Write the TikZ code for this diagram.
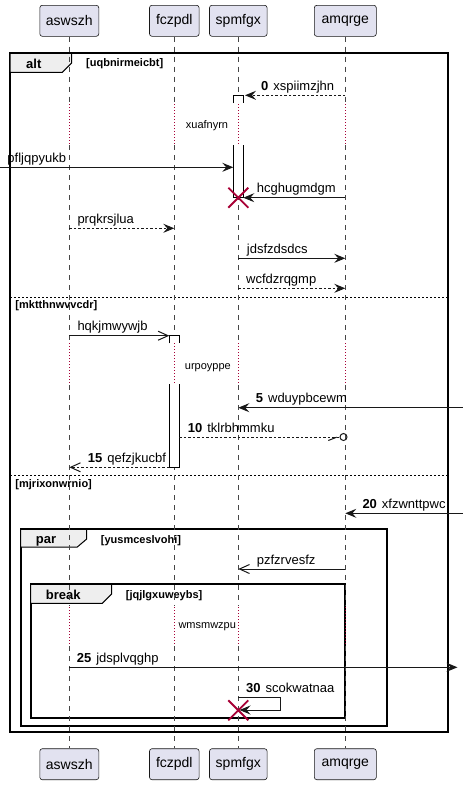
\documentclass[tikz,border=0pt]{standalone}
\usepackage{fontspec}
\setmainfont{Liberation Sans}
\usetikzlibrary{arrows.meta}
\definecolor{partfill}{HTML}{E2E2F0}
\definecolor{ink}{HTML}{181818}
\definecolor{tabfill}{HTML}{EEEEEE}
\definecolor{crim}{HTML}{A80036}
\tikzset{
  part/.style={draw=ink, fill=partfill, rounded corners=2.5pt, line width=0.6pt,
    minimum height=31pt, inner xsep=2pt, font=\fontsize{14}{16}\selectfont},
  life/.style={ink!80, line width=0.6pt, dash pattern=on 5pt off 5pt},
  lifedelay/.style={crim, line width=0.8pt, dash pattern=on 1pt off 2pt},
  msg/.style={line width=1pt, ink},
  sync/.style={-{Stealth[length=11pt,width=9pt,inset=4pt]}},
  openhead/.style={-{Straight Barb[length=10pt,width=9pt]}},
  reply/.style={dash pattern=on 2.5pt off 2pt},
  lbl/.style={anchor=base west, inner sep=0pt, font=\fontsize{13}{15}\selectfont},
  delaytxt/.style={anchor=base west, inner sep=0pt, font=\fontsize{11}{13}\selectfont},
  guard/.style={anchor=base west, inner sep=0pt, font=\bfseries\fontsize{11}{13}\selectfont},
  kind/.style={anchor=base west, inner sep=0pt, font=\bfseries\fontsize{13}{15}\selectfont},
  frame/.style={draw=black, line width=1.8pt},
  tab/.style={fill=tabfill, draw=black, line width=1pt},
  sep/.style={black, line width=0.6pt, dash pattern=on 2pt off 2pt},
  act/.style={draw=black, line width=1pt},
  kill/.style={crim, line width=1.8pt},
}
\newcommand{\num}[1]{\textbf{#1}\hspace{5pt}}
\begin{document}
\begin{tikzpicture}[x=1pt,y=-1pt]
\useasboundingbox (0,0) rectangle (463,785);
\fill[white] (0,0) rectangle (463,785);

% combined fragments
\draw[frame] (10,53.3) rectangle (448.3,732.3);
\draw[tab] (10,53.3) -- (71.7,53.3) -- (71.7,63) -- (62.3,72.3) -- (10,72.3) -- cycle;
\node[kind] (altk) at (26,68.3) {alt};
\node[guard] (g1) at (86,66.5) {[uqbnirmeicbt]};
\draw[sep] (10,297.3) -- (448.3,297.3);
\node[guard] (g2) at (15.3,308) {[mktthnwvvcdr]};
\draw[sep] (10,475) -- (448.3,475);
\node[guard] (g3) at (15.3,487.5) {[mjrixonwrnio]};

\draw[frame] (20.7,529.3) rectangle (386.7,725.7);
\draw[tab] (20.7,529.3) -- (86.7,529.3) -- (86.7,539) -- (77.3,547) -- (20.7,547) -- cycle;
\node[kind] (park) at (35.7,543.5) {par};
\node[guard] (g4) at (100.7,543.3) {[yusmceslvohi]};

\draw[frame] (30.7,584.3) rectangle (344.7,718.3);
\draw[tab] (30.7,584.3) -- (111.7,584.3) -- (111.7,594) -- (102.3,603.3) -- (30.7,603.3) -- cycle;
\node[kind] (brk) at (45.7,599) {break};
\node[guard] (g5) at (125.7,598.3) {[jqjlgxuweybs]};

% participants
\node[part, minimum width=59pt]   (A) at (69.3,20.8) {aswszh};
\node[part, minimum width=49.6pt] (F) at (174.3,20.8) {fczpdl};
\node[part, minimum width=57.6pt] (S) at (238.3,20.8) {spmfgx};
\node[part, minimum width=62pt]   (M) at (345.3,20.8) {amqrge};
\node[part, minimum width=59pt]   (Abot) at (69.3,764.2) {aswszh};
\node[part, minimum width=49.6pt] (Fbot) at (174.3,764.2) {fczpdl};
\node[part, minimum width=57.6pt] (Sbot) at (238.3,764.2) {spmfgx};
\node[part, minimum width=62pt]   (Mbot) at (345.3,764.2) {amqrge};

% lifelines, dotted where time is elided
\foreach \p in {A,F,S,M}{
  \draw[life] (\p.south) -- (\p |- 0,103);
  \draw[lifedelay] (\p |- 0,104) -- (\p |- 0,144);
  \draw[life] (\p |- 0,145) -- (\p |- 0,342);
  \draw[lifedelay] (\p |- 0,343) -- (\p |- 0,384);
  \draw[life] (\p |- 0,385) -- (\p |- 0,606);
  \draw[lifedelay] (\p |- 0,607) -- (\p |- 0,645);
  \draw[life] (\p |- 0,646) -- (\p bot.north);
}

% activation bars
\fill[white] (233.3,95.3) rectangle (243.3,103);
\draw[act] (233.3,103) -- (233.3,95.3) -- (243.3,95.3) -- (243.3,103);
\fill[white] (233.3,145) rectangle (243.3,197.7);
\draw[act] (233.3,145) -- (233.3,197.7) -- (243.3,197.7) -- (243.3,145);
\fill[white] (169.3,335.7) rectangle (179.3,343.3);
\draw[act] (169.3,343.3) -- (169.3,335.7) -- (179.3,335.7) -- (179.3,343.3);
\fill[white] (169.3,384.3) rectangle (179.3,467.3);
\draw[act] (169.3,384.3) -- (169.3,467.3) -- (179.3,467.3) -- (179.3,384.3);

% delays
\node[delaytxt] (d1) at (185.7,128.7) {xuafnyrn};
\node[delaytxt] (d2) at (184.7,369) {urpoyppe};
\node[delaytxt] (d3) at (178.3,628.3) {wmsmwzpu};

% messages
\coordinate (west) at (0,0);
\coordinate (east) at (463,0);
\draw[msg, reply, sync] (M |- 0,95.3) -- (245,95.3);
\node[lbl] (t0) at (261,90.3) {\num{0}xspiimzjhn};

\draw[msg, sync] (west |- 0,167.3) -- (233.3,167.3);
\node[lbl] (t1) at (7.3,162.3) {pfljqpyukb};

\draw[msg, sync] (M |- 0,197.7) -- (243.3,197.7);
\node[lbl] (t2) at (256.7,192.7) {hcghugmdgm};

\draw[msg, reply, sync] (A |- 0,228.3) -- (F |- 0,228.3);
\node[lbl] (t3) at (77.3,223.3) {prqkrsjlua};

\draw[msg, sync] (S |- 0,258.3) -- (M |- 0,258.3);
\node[lbl] (t4) at (246.7,253.3) {jdsfzdsdcs};

\draw[msg, reply, sync] (S |- 0,288.3) -- (M |- 0,288.3);
\node[lbl] (t5) at (246,283.3) {wcfdzrqgmp};

\draw[msg, openhead] (A |- 0,335.7) -- (169.3,335.7);
\node[lbl] (t6) at (77.3,330.7) {hqkjmwywjb};

\draw[msg, sync] (east |- 0,407.7) -- (S |- 0,407.7);
\node[lbl] (t7) at (255.7,402.7) {\num{5}wduypbcewm};

\draw[msg, reply] (179.3,437) -- (340,437);
\draw[msg] (328.3,440.5) -- (336.7,437.2);
\draw[msg] (343.5,437) circle (3.5);
\node[lbl] (t8) at (187.7,432.2) {\num{10}tklrbhmmku};

\draw[msg, reply, openhead] (169.3,467.3) -- (A |- 0,467.3);
\node[lbl] (t9) at (87.7,462.3) {\num{15}qefzjkucbf};

\draw[msg, sync] (east |- 0,513.3) -- (M |- 0,513.3);
\node[lbl] (t10) at (362.3,508.3) {\num{20}xfzwnttpwc};

\draw[msg, openhead] (M |- 0,569) -- (S |- 0,569);
\node[lbl] (t11) at (256.7,564) {pzfzrvesfz};

\draw[msg, sync] (A |- 0,667.3) -- (457.5,667.3);
\node[lbl] (t12) at (76.7,662.3) {\num{25}jdsplvqghp};

\draw[msg, sync] (S |- 0,697.7) -- (280.7,697.7) -- (280.7,710) -- (239.5,710);
\node[lbl] (t13) at (246,692.7) {\num{30}scokwatnaa};

% destroyed lifeline ends
\draw[kill] (228.3,187.7) -- (248.3,207.7) (228.3,207.7) -- (248.3,187.7);
\draw[kill] (228.3,700.3) -- (248.3,720.3) (228.3,720.3) -- (248.3,700.3);
\end{tikzpicture}
\end{document}
